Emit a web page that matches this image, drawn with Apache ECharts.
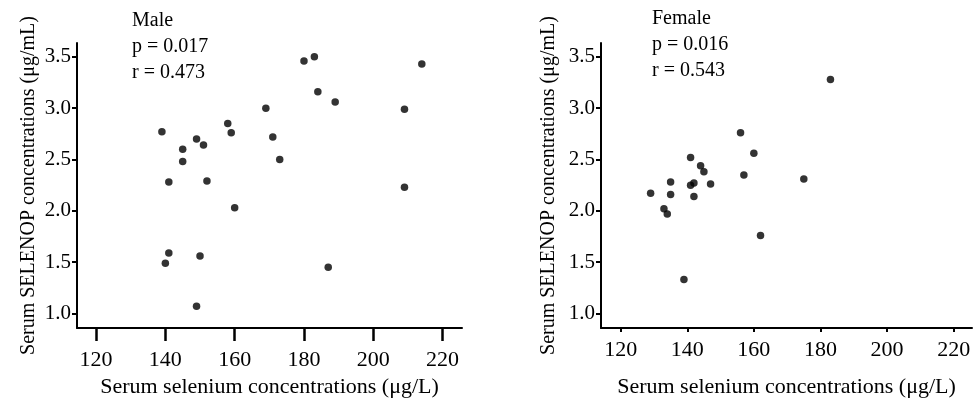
<!DOCTYPE html>
<html>
<head>
<meta charset="utf-8">
<script src="https://cdn.jsdelivr.net/npm/echarts@6/dist/echarts.min.js"></script>
<style>
html,body{margin:0;padding:0;background:#fff;}
#c{width:975px;height:403px;}
</style>
</head>
<body>
<div id="c"></div>
<script>
// Data
const maleSelenium = [139,141,145,145,149,151,152,158,159,169,171,173,180,183,184,189,209,214,209,140,141,150,149,160,187];
const maleSelenop  = [2.77,2.28,2.60,2.48,2.70,2.64,2.29,2.85,2.76,3.00,2.72,2.50,3.46,3.50,3.16,3.06,2.99,3.43,2.23,1.49,1.59,1.56,1.07,2.03,1.45];
const femaleSelenium = [141,144,145,135,141,142,147,129,135,142,156,160,157,175,183,133,134,162,139];
const femaleSelenop  = [2.52,2.44,2.38,2.28,2.25,2.27,2.26,2.17,2.16,2.14,2.76,2.56,2.35,2.31,3.28,2.02,1.97,1.76,1.33];
const xTicks = [120,140,160,180,200,220];
const yTicks = [1.0,1.5,2.0,2.5,3.0,3.5];
const panelNames = ['Male','Female'];
const pValues = ['p = 0.017','p = 0.016'];
const rValues = ['r = 0.473','r = 0.543'];
const xTitle = 'Serum selenium concentrations (\u03bcg/L)';
const yTitle = 'Serum SELENOP concentrations (\u03bcg/mL)';

const FONT = '"Liberation Serif", "Times New Roman", serif';
function pairs(xs, ys){ return xs.map((x,i)=>[x, ys[i]]); }

function xAxis(idx, tickLen, tickW, labelMargin, min, max){
  return {
    type:'value', gridIndex: idx, min: min, max: max,
    splitLine:{show:false},
    axisLine:{show:true, onZero:false, lineStyle:{color:'#000', width:2}},
    axisTick:{show:true, length: tickLen, customValues: xTicks, lineStyle:{color:'#000', width:tickW}},
    axisLabel:{show:true, customValues: xTicks, margin: labelMargin, color:'#000', fontFamily:FONT, fontSize:22},
    name: xTitle, nameLocation:'middle', nameGap: 48,
    nameTextStyle:{color:'#000', fontFamily:FONT, fontSize:22}
  };
}
function yAxis(idx, nameGap){
  return {
    type:'value', gridIndex: idx, min: 0.858, max: 3.635,
    splitLine:{show:false},
    axisLine:{show:true, onZero:false, lineStyle:{color:'#000', width:2}},
    axisTick:{show:true, length: 5, customValues: yTicks, lineStyle:{color:'#000', width:2}},
    axisLabel:{show:true, customValues: yTicks, margin: 6, color:'#000', fontFamily:FONT, fontSize:21,
      formatter: v => Number(v).toFixed(1)},
    name: yTitle, nameLocation:'middle', nameGap: nameGap, nameRotate: 90,
    nameTextStyle:{color:'#000', fontFamily:FONT, fontSize:20}
  };
}

const chart = echarts.init(document.getElementById('c'), null, {renderer:'canvas'});
chart.setOption({
  animation:false,
  backgroundColor:'#fff',
  title:[
    {text: panelNames[0]+'\n'+pValues[0]+'\n'+rValues[0], left:132, top:8, padding:0,
     textStyle:{fontFamily:FONT, fontSize:20, fontWeight:'normal', color:'#000', lineHeight:26}},
    {text: panelNames[1]+'\n'+pValues[1]+'\n'+rValues[1], left:652, top:6, padding:0,
     textStyle:{fontFamily:FONT, fontSize:20, fontWeight:'normal', color:'#000', lineHeight:26}}
  ],
  grid:[
    {left:77, top:43, width:385, height:289},
    {left:601, top:43, width:371, height:289}
  ],
  xAxis:[ xAxis(0, 13, 2.5, 21, 114.5, 225.6), xAxis(1, 4, 2, 11, 114.1, 225.5) ],
  yAxis:[ yAxis(0, 38), yAxis(1, 42) ],
  series:[
    {type:'scatter', xAxisIndex:0, yAxisIndex:0, data: pairs(maleSelenium, maleSelenop),
     symbol:'circle', symbolSize:7.5, itemStyle:{color:'#000'}},
    {type:'scatter', xAxisIndex:1, yAxisIndex:1, data: pairs(femaleSelenium, femaleSelenop),
     symbol:'circle', symbolSize:7.5, itemStyle:{color:'#000'}}
  ]
});
</script>
</body>
</html>
